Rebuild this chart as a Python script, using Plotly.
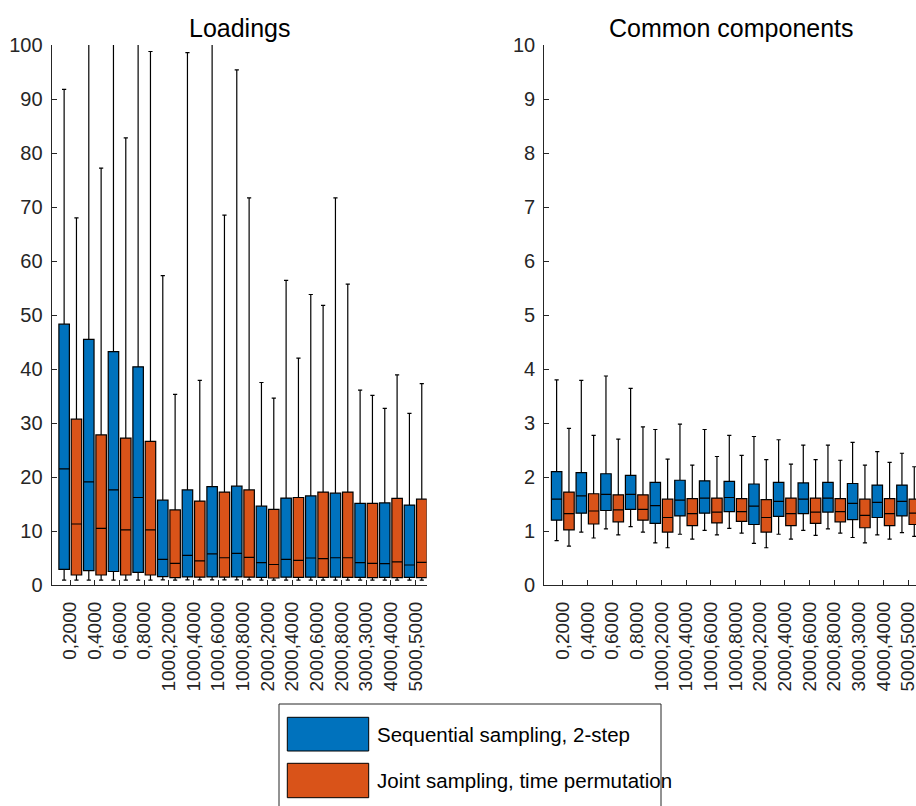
import plotly.graph_objects as go

categories = ["0,2000", "0,4000", "0,6000", "0,8000", "1000,2000", "1000,4000",
              "1000,6000", "1000,8000", "2000,2000", "2000,4000", "2000,6000",
              "2000,8000", "3000,3000", "4000,4000", "5000,5000"]

series_names = ["Sequential sampling, 2-step", "Joint sampling, time permutation"]
panel_titles = ["Loadings", "Common components"]

# Loadings - sequential sampling (blue)
load_seq_upper = [91.8, 120, 120, 120, 57.3, 98.6, 120, 95.4, 37.5, 56.4, 53.8, 71.7, 36.1, 32.7, 31.8]
load_seq_q3 = [48.3, 45.5, 43.2, 40.4, 15.7, 17.6, 18.2, 18.3, 14.6, 16.1, 16.5, 17.0, 15.1, 15.2, 14.8]
load_seq_med = [21.5, 19.1, 17.6, 16.2, 4.75, 5.5, 5.75, 5.85, 4.15, 4.75, 5.0, 5.05, 4.15, 3.95, 3.7]
load_seq_q1 = [2.9, 2.65, 2.5, 2.35, 1.55, 1.5, 1.5, 1.5, 1.4, 1.45, 1.45, 1.45, 1.4, 1.4, 1.4]
load_seq_lower = [0.9, 0.9, 0.9, 0.9, 0.95, 0.95, 0.95, 0.95, 0.9, 0.9, 0.9, 0.9, 0.9, 0.9, 0.9]

# Loadings - joint sampling (orange)
load_joint_upper = [68.0, 77.2, 82.8, 98.8, 35.3, 37.9, 68.5, 71.7, 34.6, 42.0, 51.8, 55.7, 35.1, 38.9, 37.3]
load_joint_q3 = [30.7, 27.8, 27.2, 26.6, 13.9, 15.55, 17.2, 17.6, 14.0, 16.2, 17.2, 17.2, 15.1, 16.05, 15.9]
load_joint_med = [11.3, 10.5, 10.2, 10.2, 4.0, 4.45, 5.05, 5.1, 3.8, 4.55, 4.9, 5.05, 4.0, 4.3, 4.2]
load_joint_q1 = [1.85, 1.85, 1.85, 1.85, 1.35, 1.45, 1.45, 1.45, 1.3, 1.4, 1.4, 1.4, 1.35, 1.35, 1.35]
load_joint_lower = [0.9, 0.9, 0.9, 0.9, 0.9, 0.95, 0.95, 0.95, 0.9, 0.9, 0.9, 0.9, 0.9, 0.9, 0.9]

# Common components - sequential sampling (blue)
cc_seq_upper = [3.80, 3.79, 3.87, 3.64, 2.88, 2.98, 2.88, 2.77, 2.75, 2.69, 2.59, 2.59, 2.64, 2.47, 2.44]
cc_seq_q3 = [2.10, 2.08, 2.06, 2.03, 1.90, 1.94, 1.93, 1.92, 1.87, 1.90, 1.89, 1.90, 1.88, 1.85, 1.85]
cc_seq_med = [1.59, 1.65, 1.68, 1.68, 1.47, 1.57, 1.61, 1.62, 1.46, 1.55, 1.59, 1.61, 1.51, 1.53, 1.55]
cc_seq_q1 = [1.20, 1.33, 1.38, 1.40, 1.14, 1.28, 1.33, 1.36, 1.12, 1.27, 1.32, 1.35, 1.21, 1.25, 1.28]
cc_seq_lower = [0.82, 0.98, 1.04, 1.08, 0.78, 0.94, 1.01, 1.05, 0.77, 0.94, 1.01, 1.04, 0.88, 0.93, 0.97]

# Common components - joint sampling (orange)
cc_joint_upper = [2.90, 2.77, 2.70, 2.93, 2.33, 2.22, 2.38, 2.40, 2.32, 2.24, 2.32, 2.31, 2.22, 2.27, 2.19]
cc_joint_q3 = [1.72, 1.69, 1.67, 1.67, 1.59, 1.60, 1.61, 1.60, 1.58, 1.61, 1.61, 1.60, 1.59, 1.60, 1.59]
cc_joint_med = [1.32, 1.37, 1.39, 1.40, 1.25, 1.32, 1.35, 1.36, 1.25, 1.32, 1.35, 1.36, 1.29, 1.32, 1.33]
cc_joint_q1 = [1.02, 1.13, 1.17, 1.20, 0.98, 1.10, 1.15, 1.18, 0.98, 1.10, 1.14, 1.17, 1.06, 1.10, 1.12]
cc_joint_lower = [0.72, 0.87, 0.93, 0.98, 0.69, 0.85, 0.93, 0.96, 0.69, 0.85, 0.92, 0.96, 0.78, 0.85, 0.90]

left_yticks = [0, 10, 20, 30, 40, 50, 60, 70, 80, 90, 100]
right_yticks = [0, 1, 2, 3, 4, 5, 6, 7, 8, 9, 10]

colors = ["#0072BD", "#D95319"]
W, H = 916, 806
FONT = "Liberation Sans, Arial, Helvetica, sans-serif"
TXT = "#262626"


def px(x):
    return x / W


def py(y):
    return 1 - y / H


fig = go.Figure()

panels = [
    ("x", "y", [(load_seq_lower, load_seq_q1, load_seq_med, load_seq_q3, load_seq_upper),
                (load_joint_lower, load_joint_q1, load_joint_med, load_joint_q3, load_joint_upper)]),
    ("x2", "y2", [(cc_seq_lower, cc_seq_q1, cc_seq_med, cc_seq_q3, cc_seq_upper),
                  (cc_joint_lower, cc_joint_q1, cc_joint_med, cc_joint_q3, cc_joint_upper)]),
]

for xa, ya, stats in panels:
    for i, (lo, q1, med, q3, up) in enumerate(stats):
        fig.add_trace(go.Box(
            x=categories, lowerfence=lo, q1=q1, median=med, q3=q3, upperfence=up,
            name=series_names[i], offsetgroup=str(i), xaxis=xa, yaxis=ya,
            fillcolor=colors[i], line=dict(color="#000000", width=1.2),
            whiskerwidth=0.4, boxpoints=False, showlegend=False, hoverinfo="skip",
        ))

axis_common = dict(
    showline=True, linecolor=TXT, linewidth=1.2, ticks="inside", ticklen=5,
    tickcolor=TXT, tickwidth=1, showgrid=False, zeroline=False, mirror=False,
    automargin=False,
)

y_top, y_bot = 45, 585
xfont = dict(family=FONT, size=19, color=TXT)
yfont = dict(family=FONT, size=20, color=TXT)
fig.update_layout(
    template="none",
    width=W, height=H, margin=dict(l=0, r=0, t=0, b=0, autoexpand=False),
    paper_bgcolor="white", plot_bgcolor="white",
    boxmode="group", boxgap=0.0, boxgroupgap=0.15,
    xaxis=dict(domain=[px(51.7), px(426.7)], type="category", range=[-0.754, 14.45],
               tickangle=-90, anchor="y", ticklabelstandoff=8, tickfont=xfont, **axis_common),
    yaxis=dict(domain=[py(y_bot), py(y_top)], range=[0, 100], tickvals=left_yticks,
               anchor="x", ticklabelstandoff=4, tickfont=yfont, **axis_common),
    xaxis2=dict(domain=[px(544.3), 1.0], type="category", range=[-0.75, 14.32],
                tickangle=-90, anchor="y2", ticklabelstandoff=8, tickfont=xfont, **axis_common),
    yaxis2=dict(domain=[py(y_bot), py(y_top)], range=[0, 10], tickvals=right_yticks,
                anchor="x2", ticklabelstandoff=4, tickfont=yfont, **axis_common),
)

# panel titles
for title, cx in zip(panel_titles, [239.2, 731.8]):
    fig.add_annotation(x=px(cx), y=py(28), xref="paper", yref="paper", text=title,
                       showarrow=False, xanchor="center", yanchor="middle",
                       font=dict(family=FONT, size=25, color="#000000"))

# legend box
fig.add_shape(type="rect", xref="paper", yref="paper", x0=px(279), x1=px(661),
              y0=py(812), y1=py(704), line=dict(color=TXT, width=1), fillcolor="white")
for i, (name, (top, bot)) in enumerate(zip(series_names, [(717.3, 751.0), (763.3, 797.7)])):
    fig.add_shape(type="rect", xref="paper", yref="paper", x0=px(287.3), x1=px(368.7),
                  y0=py(bot), y1=py(top), line=dict(color="#000000", width=1),
                  fillcolor=colors[i])
    fig.add_annotation(x=px(375), y=py((top + bot) / 2), xref="paper", yref="paper",
                       text=name, showarrow=False, xanchor="left", yanchor="middle",
                       font=dict(family=FONT, size=20.5, color="#000000"))

fig.write_html("out.html", post_script="document.body.style.margin='0';",
               config={"displayModeBar": False})
